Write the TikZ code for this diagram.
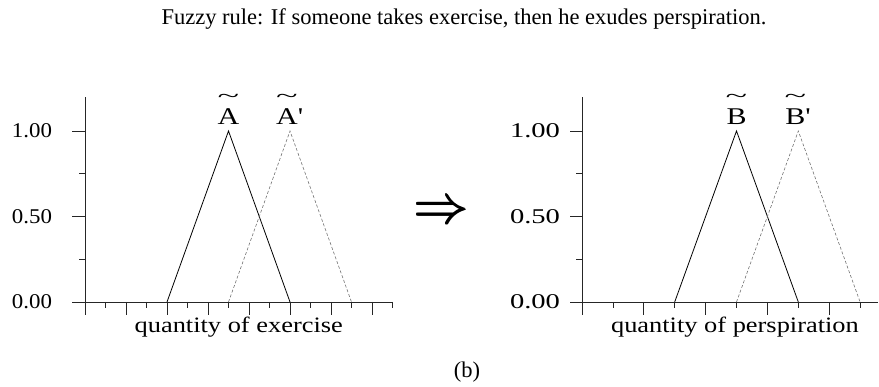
\documentclass[tikz,border=0pt]{standalone}
\usepackage{fontspec}
\setmainfont{Liberation Serif}
\newfontfamily\plotfont{Liberation Serif}[FakeStretch=1.2]
\newfontfamily\ticksfont{Liberation Serif}[FakeStretch=1.09]
\newfontfamily\wideticksfont{Liberation Serif}[FakeStretch=1.36]
\newfontfamily\setfont{Liberation Serif}[FakeStretch=1.25]
\usetikzlibrary{positioning}
\newcommand\implarrow{\rlap{\raisebox{.25pt}{$\Rightarrow$}}\rlap{\hspace*{.2pt}$\Rightarrow$}$\Rightarrow$}
\newcommand\widetil{\scalebox{1.45}[.9]{\textasciitilde}}
\tikzset{
 fz axis/.style={line width=.8pt,black!85},
 fz member/.style={line width=.8pt,black},
 fz shifted/.style={line width=.6pt,dash pattern=on 3pt off 2pt,black!55},
 fz tick label/.style={font=\ticksfont\fontsize{21}{21}\selectfont,inner sep=0pt},
 fz wide tick label/.style={font=\wideticksfont\fontsize{21}{21}\selectfont,inner sep=0pt},
 fz set label/.style={font=\setfont\fontsize{24}{24}\selectfont,inner sep=0pt,anchor=base},
 fz tilde/.style={font=\setfont\fontsize{22}{22}\selectfont,inner sep=0pt,anchor=base},
 fz axis label/.style={font=\plotfont\fontsize{22}{22}\selectfont,inner sep=0pt,anchor=base},
 fz caption/.style={font=\fontsize{22.5}{22.5}\selectfont,inner sep=0pt,anchor=base}
}

\begin{document}
\begin{tikzpicture}[x=1pt,y=1pt]
 \useasboundingbox (0,0) rectangle (879,387);

 \node[fz caption] (title) at (464,362)
   {Fuzzy rule: If someone takes exercise, then he exudes perspiration.};

 % Antecedent: quantity of exercise.
 \begin{scope}[shift={(85pt,85pt)},x=20.5pt,y=171pt]
  \coordinate (Lo) at (0,0);
  \coordinate (Lxs) at (-13pt,0);
  \coordinate (Lxe) at (15,0);
  \coordinate (Lyt) at (0,1.2);
  \draw[fz axis] (Lxs) -- (Lxe);
  \draw[fz axis] (Lo) -- (Lyt);
  \foreach \i in {0,...,15}{
    \ifodd\i \def\ticklen{6pt}\else\def\ticklen{13pt}\fi
    \draw[fz axis] (\i,0) -- ++(0,-\ticklen);
  }
  \foreach \v/\len in {0/13pt,.25/6pt,.5/13pt,.75/6pt,1/13pt}
    \draw[fz axis] (0,\v) -- ++(-\len,0);
  \foreach \v/\txt/\n in {0/0.00/0,.5/0.50/1,1/1.00/2}
    \node[fz tick label,xshift=-53pt] (Lt\n) at (0,\v) {\txt};

  \coordinate (A0) at (4,0);
  \coordinate (A1) at (7,1);
  \coordinate (A2) at (10,0);
  \coordinate (Ap0) at (7,0);
  \coordinate (Ap1) at (10,1);
  \coordinate (Ap2) at (13,0);
  \draw[fz member] (A0) -- (A1) -- (A2);
  \draw[fz shifted] (Ap0) -- (Ap1) -- (Ap2);

  \node[fz set label,yshift=6pt] (labA) at (A1) {A};
  \node[fz set label,yshift=6pt,xshift=-3pt] (labAp) at (Ap1) {A\rlap{\textquotesingle}};
  \node[fz tilde,yshift=28pt] (tilA) at (A1) {\widetil};
  \node[fz tilde,yshift=28pt,xshift=-3pt] (tilAp) at (Ap1) {\widetil};
  \node[fz axis label,yshift=-31pt] (xlabL) at (7.5,0) {quantity of exercise};
 \end{scope}

 \node (impl) at (441,174) {\scalebox{5.5}{\implarrow}};

 % Consequent: quantity of perspiration.
 \begin{scope}[shift={(582pt,85pt)},x=30.9pt,y=171pt]
  \coordinate (Ro) at (0,0);
  \coordinate (Rxs) at (-12pt,0);
  \coordinate (Rxe) at (9.58,0);
  \coordinate (Ryt) at (0,1.2);
  \draw[fz axis] (Rxs) -- (Rxe);
  \draw[fz axis] (Ro) -- (Ryt);
  \foreach \i in {0,...,9}{
    \ifodd\i \def\ticklen{6pt}\else\def\ticklen{13pt}\fi
    \draw[fz axis] (\i,0) -- ++(0,-\ticklen);
  }
  \foreach \v/\len in {0/12pt,.25/6pt,.5/12pt,.75/6pt,1/12pt}
    \draw[fz axis] (0,\v) -- ++(-\len,0);
  \foreach \v/\txt/\n in {0/0.00/0,.5/0.50/1,1/1.00/2}
    \node[fz wide tick label,xshift=-47pt] (Rt\n) at (0,\v) {\txt};

  \coordinate (B0) at (3,0);
  \coordinate (B1) at (5,1);
  \coordinate (B2) at (7,0);
  \coordinate (Bp0) at (5,0);
  \coordinate (Bp1) at (7,1);
  \coordinate (Bp2) at (9,0);
  \draw[fz member] (B0) -- (B1) -- (B2);
  \draw[fz shifted] (Bp0) -- (Bp1) -- (Bp2);

  \node[fz set label,yshift=6pt] (labB) at (B1) {B};
  \node[fz set label,yshift=6pt,xshift=-3pt] (labBp) at (Bp1) {B\rlap{\textquotesingle}};
  \node[fz tilde,yshift=28pt] (tilB) at (B1) {\widetil};
  \node[fz tilde,yshift=28pt,xshift=-3pt] (tilBp) at (Bp1) {\widetil};
  \node[fz axis label,yshift=-31pt] (xlabR) at (4.95,0) {quantity of perspiration};
 \end{scope}

 \node[fz caption] (sub) at (467,9) {(b)};
\end{tikzpicture}
\end{document}
